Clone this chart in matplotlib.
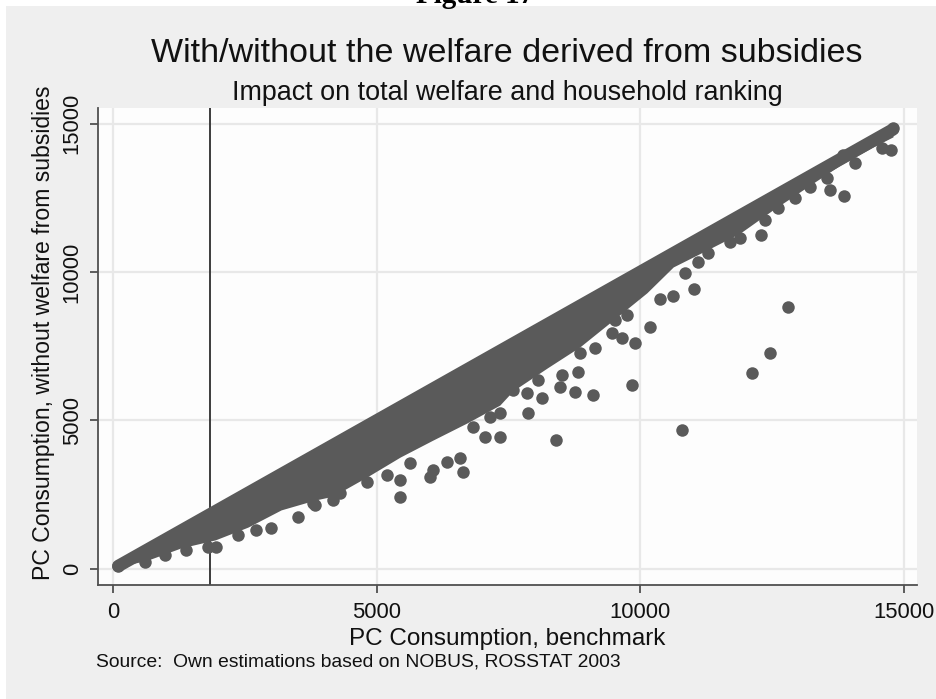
import matplotlib.pyplot as plt
from matplotlib.patches import Rectangle

# per-capita consumption, benchmark vs. without welfare from subsidies
# dense band of households: lower envelope (upper envelope is the no-subsidy diagonal)
band_x = [100, 660, 1290, 1940, 2560, 3190, 3830, 4170, 4820, 5450, 6070, 6720,
          7340, 7590, 8240, 8860, 9490, 10130, 10630, 11270, 11900, 12520, 13170,
          13800, 14420, 14800]
band_lo = [70, 300, 710, 980, 1410, 1990, 2320, 2450, 3100, 3770, 4340, 4920,
           5520, 6000, 6770, 7480, 8380, 9300, 10170, 10740, 11310, 12090, 12860,
           13600, 14210, 14550]

# households along the lower edge of the cloud and the outliers
pts_x = [100, 610, 990, 1390, 1800, 1950, 2370, 2710, 3000, 3510, 3830, 3800,
         4170, 4310, 4820, 5200, 5450, 5450, 5640, 6020, 6070, 6340, 6580, 6640,
         6830, 7060, 7340, 7150, 7340, 7590, 7870, 7860, 8060, 8140, 8400, 8480,
         8520, 8770, 8820, 9110, 8860, 9150, 9470, 9530, 9660, 9750, 9900, 9850,
         10190, 10380, 10630, 11020, 10800, 10850, 11100, 11290, 11710, 11900,
         12130, 12300, 12470, 12370, 12810, 12620, 12940, 13230, 13610, 13870,
         13550, 14080, 13850, 14590, 14760, 14800]
pts_y = [90, 240, 470, 640, 740, 740, 1140, 1310, 1380, 1750, 2150, 2220,
         2320, 2560, 2930, 3160, 3000, 2430, 3570, 3100, 3330, 3600, 3740, 3270,
         4780, 4440, 4440, 5120, 5250, 6030, 5250, 5930, 6360, 5760, 4330, 6130,
         6530, 5960, 6630, 5860, 7270, 7440, 7950, 8380, 7780, 8550, 7610, 6200,
         8150, 9090, 9190, 9430, 4680, 9970, 10340, 10640, 11010, 11140,
         6600, 11250, 7270, 11750, 8820, 12150, 12490, 12860, 12760, 12560,
         13170, 13670, 13940, 14180, 14110, 14850]

poverty_line = 1835
ticks = [0, 5000, 10000, 15000]

dot = '#5a5a5a'
ink = '#505050'
txt = '#111111'
plt.rcParams['font.family'] = ['Liberation Sans', 'DejaVu Sans']

fig = plt.figure(figsize=(9.37, 6.99), dpi=100)
fig.patch.set_facecolor('white')
fig.patches.append(Rectangle((6 / 937, 0), 1, 1 - 6 / 699, transform=fig.transFigure,
                             facecolor='#efefef', edgecolor='none', zorder=-10))
fig.text(0.507, 1 - 3 / 699, 'Figure 17', ha='center', va='baseline',
         family='Liberation Serif', fontweight='bold', fontsize=21)

ax = fig.add_axes([98 / 937, 1 - 585 / 699, 819 / 937, 477 / 699])
ax.set_facecolor('#fdfdfd')
ax.set_xlim(-285, 15256)
ax.set_ylim(-539, 15522)

ax.set_xticks(ticks)
ax.set_yticks(ticks)
ax.grid(True, color='#e8e8e8', linewidth=1.6, zorder=0)
ax.set_axisbelow(True)

for s in ['top', 'right']:
    ax.spines[s].set_visible(False)
for s in ['left', 'bottom']:
    ax.spines[s].set_color(ink)
    ax.spines[s].set_linewidth(1.3)
ax.tick_params(direction='out', length=6, width=1.3, color=ink,
               labelsize=15.8, labelcolor=txt)
ax.tick_params(axis='x', pad=6)
ax.tick_params(axis='y', pad=5)
for lab in ax.get_yticklabels():
    lab.set_rotation(90)
    lab.set_va('center')

ax.axvline(poverty_line, color='#3c3c3c', linewidth=1.4, zorder=2)

# solid cloud of overlapping markers
ax.fill_between(band_x, band_lo, band_x, color=dot, linewidth=0, zorder=3)
ax.plot(band_x, band_x, color=dot, linewidth=9, solid_capstyle='round', zorder=3)
ax.scatter(pts_x, pts_y, s=81, color=dot, linewidths=0, zorder=3)

ax.set_xlabel('PC Consumption, benchmark', fontsize=17.5, color=txt)
ax.xaxis.set_label_coords(0.5, -0.113)
ax.xaxis.label.set_va('center')
ax.set_ylabel('PC Consumption, without welfare from subsidies', fontsize=16.6,
              color=txt)
ax.yaxis.set_label_coords(-0.067, 0.528)
ax.yaxis.label.set_va('center')

fig.text(0.541, 1 - 62 / 699, 'With/without the welfare derived from subsidies',
         ha='center', va='baseline', fontsize=24.5, color=txt)
fig.text(0.541, 1 - 100 / 699, 'Impact on total welfare and household ranking',
         ha='center', va='baseline', fontsize=19.4, color=txt)
fig.text(96 / 937, 1 - 662 / 699, 'Source:  Own estimations based on NOBUS, ROSSTAT 2003',
         ha='left', va='center', fontsize=13.9, color=txt)

fig.savefig('out.png', dpi=100)
